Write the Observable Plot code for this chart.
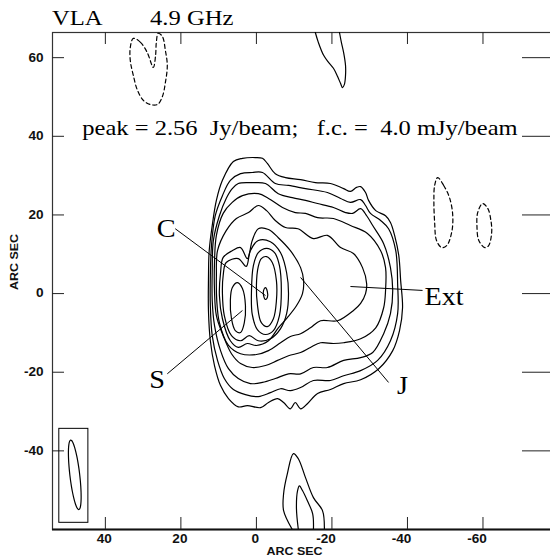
<!DOCTYPE html>
<html>
<head>
<meta charset="utf-8">
<script src="https://cdn.jsdelivr.net/npm/d3@7"></script>
<script src="https://cdn.jsdelivr.net/npm/@observablehq/plot@0.6"></script>
<style>
  html, body { margin: 0; padding: 0; background: #fff; overflow: hidden; }
  #wrap { position: relative; width: 558px; height: 560px; overflow: hidden; }
  .heading { position: absolute; top: 7px; font-family: "Liberation Serif", "Times New Roman", serif;
             font-size: 22px; line-height: 1; white-space: pre; transform: scaleX(1.12); transform-origin: 0 0; color: #000; }
</style>
</head>
<body>
<div id="wrap"><div id="chart"></div></div>
<script>
// Axis ticks (arc seconds from the core)
const xTicks = [40, 20, 0, -20, -40, -60];
const yTicks = [60, 40, 20, 0, -20, -40];

// Total-intensity contours of the main source, outermost first, [x, y] in arcsec
const lev1 = [[6.1,33.6],[3.7,34.4],[0.3,34.6],[-1.6,34.4],[-2.9,33.1],[-5.0,30.5],[-7.7,29.5],[-11.7,29.0],[-15.6,28.2],[-19.6,28.0],[-23.1,26.7],[-24.9,26.0],[-26.5,27.0],[-27.6,27.2],[-28.9,25.7],[-29.7,23.7],[-31.6,21.1],[-34.2,19.8],[-35.5,18.1],[-36.6,14.8],[-37.7,9.7],[-38.2,3.3],[-38.7,-3.6],[-37.9,-9.4],[-36.1,-14.5],[-32.4,-19.1],[-27.6,-21.9],[-23.1,-22.9],[-19.6,-24.4],[-16.2,-25.4],[-13.5,-28.0],[-11.7,-29.3],[-10.3,-27.7],[-9.0,-29.3],[-7.2,-27.7],[-5.6,-26.7],[-3.2,-27.7],[-1.1,-29.0],[2.4,-28.5],[4.8,-28.8],[7.4,-26.7],[9.5,-23.4],[11.1,-18.3],[12.2,-12.0],[12.7,-4.3],[12.7,3.3],[12.5,10.9],[11.7,17.3],[10.6,23.7],[9.0,28.8]];
const lev2 = [[4.2,30.5],[1.1,30.8],[-1.6,30.8],[-5.0,28.0],[-8.5,27.5],[-13.0,26.7],[-18.8,25.7],[-22.3,24.2],[-24.9,23.2],[-27.6,23.9],[-28.9,22.4],[-30.2,20.4],[-32.9,18.6],[-35.0,16.5],[-36.9,10.9],[-37.4,2.5],[-37.4,-5.1],[-35.5,-12.0],[-32.1,-17.0],[-27.6,-19.6],[-23.1,-20.9],[-19.6,-22.1],[-15.1,-22.1],[-11.7,-23.9],[-9.0,-24.7],[-6.4,-24.2],[-3.7,-25.2],[-0.5,-26.2],[2.9,-25.7],[6.1,-24.4],[8.5,-21.6],[10.3,-17.0],[11.7,-10.7],[12.2,-3.1],[12.2,4.6],[11.9,12.2],[10.9,19.8],[9.0,24.9],[6.9,28.8]];
const lev3 = [[4.8,28.0],[1.1,28.2],[-2.4,28.0],[-5.8,25.4],[-9.5,24.4],[-13.0,23.7],[-16.2,22.9],[-20.4,21.9],[-23.6,20.6],[-25.5,20.4],[-27.6,21.6],[-29.2,19.8],[-30.8,17.3],[-33.7,12.7],[-35.5,6.6],[-36.1,0.8],[-35.5,-5.1],[-33.7,-10.2],[-30.8,-15.0],[-27.6,-16.3],[-23.1,-17.0],[-18.8,-18.8],[-15.1,-18.8],[-11.7,-20.4],[-8.5,-20.4],[-5.0,-21.6],[-1.6,-22.6],[1.6,-22.9],[4.8,-21.6],[7.4,-19.1],[9.5,-14.5],[11.1,-8.1],[11.7,-1.8],[11.7,5.9],[11.4,13.5],[9.8,19.8],[8.0,24.2],[6.4,26.7]];
const lev4 = [[3.7,24.9],[-0.5,25.4],[-3.2,24.2],[-6.9,21.9],[-10.3,20.6],[-13.0,20.4],[-16.2,19.3],[-20.4,19.1],[-24.9,17.3],[-29.4,15.3],[-32.9,10.9],[-34.2,6.6],[-34.2,0.8],[-33.7,-3.6],[-31.6,-8.7],[-27.6,-11.5],[-23.1,-12.5],[-20.4,-12.7],[-17.0,-12.5],[-14.3,-13.7],[-11.7,-15.0],[-8.5,-15.8],[-5.6,-17.0],[-2.4,-18.3],[1.1,-18.8],[4.2,-17.8],[6.6,-15.3],[8.8,-10.7],[10.6,-5.6],[11.1,0.8],[11.1,7.9],[10.6,14.8],[8.8,20.4],[6.4,23.2]];
const lev5 = [[2.1,20.6],[-0.5,22.4],[-2.7,21.1],[-5.0,18.6],[-7.7,16.8],[-11.0,16.5],[-15.1,14.0],[-18.8,14.8],[-22.3,11.7],[-25.7,10.2],[-28.1,6.6],[-29.2,2.5],[-28.9,0],[-27.6,-2.5],[-25.7,-4.3],[-21.5,-6.9],[-17.0,-6.9],[-14.3,-8.7],[-11.7,-10.2],[-9.0,-10.9],[-6.4,-12.5],[-3.2,-14.5],[0,-15.5],[4.2,-15.3],[7.4,-13.2],[9.8,-7.4],[10.5,-1.8],[10.6,4.6],[10.3,10.9],[8.0,16.0],[5.3,19.1]];
const lev6 = [[6.4,10.9],[4.2,11.7],[2.4,8.9],[1.1,13.5],[-0.5,16.5],[-3.2,16.3],[-5.8,14.2],[-9.0,10.9],[-11.7,6.6],[-12.5,3.3],[-12.2,0],[-10.6,-3.1],[-8.2,-6.1],[-5.8,-8.7],[-3.2,-12.0],[0,-13.2],[2.4,-12.7],[4.8,-13.7],[6.9,-12.0],[9.0,-6.4],[9.8,-0.5],[9.5,5.3],[8.8,9.2]];
const lev7 = [[8.0,7.9],[4.8,8.9],[2.7,6.9],[1.6,10.9],[-0.5,13.5],[-3.7,13.2],[-6.4,10.4],[-8.0,5.3],[-8.5,0],[-8.0,-5.1],[-6.4,-8.9],[-3.7,-11.5],[-0.5,-12.0],[1.9,-10.7],[4.2,-12.0],[6.6,-10.7],[8.5,-5.6],[9.0,0],[8.8,4.6]];
const coreRing = [[-2.7,11.5],[-4.8,10.4],[-6.1,7.1],[-6.6,0.8],[-6.1,-5.6],[-4.5,-9.4],[-2.4,-10.4],[-0.3,-9.2],[1.1,-5.3],[1.3,0.8],[0.8,7.1],[-0.5,10.4]];
const coreInner = [[-2.7,9.4],[-4.2,7.9],[-5.3,3.3],[-5.3,-1.8],[-4.5,-6.4],[-2.9,-8.4],[-1.3,-7.4],[-0.3,-3.1],[0,2.0],[-0.5,6.9],[-1.3,8.9]];
const corePeak = [[-2.4,1.5],[-2.9,0.5],[-2.9,-1.0],[-2.4,-1.5],[-1.9,-0.5],[-1.9,0.8]];
const southKnot = [[5.0,2.8],[3.7,1.3],[2.9,-3.1],[3.2,-7.4],[4.2,-9.9],[5.6,-9.4],[6.6,-6.4],[6.9,-1.8],[6.4,1.5]];

// Faint isolated features
const posNorth = [[-15.6,66.4],[-16.4,63.9],[-17.8,60.6],[-19.1,58.8],[-20.4,57.3],[-21.5,55.2],[-22.3,53.4],[-22.8,52.4],[-23.3,53.2],[-23.6,55.5],[-23.6,58.0],[-23.1,61.3],[-22.5,63.9],[-22.0,66.4]];
const posSouthOuter = [[-9.5,-60],[-7.2,-55.2],[-7.2,-50.9],[-8.2,-45.8],[-9.8,-40.7],[-11.1,-42.0],[-13.0,-46.8],[-15.1,-51.9],[-17.5,-55.2],[-18.0,-60]];
const posSouthInner = [[-11.1,-60],[-10.6,-54.5],[-10.9,-50.1],[-11.4,-48.9],[-12.2,-50.1],[-13.5,-52.7],[-14.9,-56.0],[-15.1,-60]];
const negNorthWest = [[32.6,64.9],[30.7,63.9],[28.9,61.3],[27.3,57.5],[26.7,60.6],[26.5,63.9],[26.0,66.2],[24.9,65.4],[24.1,61.8],[23.6,58.0],[24.1,53.7],[24.9,50.1],[26.2,48.1],[28.1,48.1],[29.9,49.1],[31.5,51.7],[32.6,55.5],[33.4,59.3],[33.4,62.6]];
const negWest1 = [[-48.0,29.5],[-49.6,27.5],[-51.2,24.2],[-52.0,19.8],[-51.7,15.5],[-50.4,12.2],[-49.1,11.7],[-47.7,13.5],[-47.2,18.1],[-47.0,23.7],[-47.2,27.5]];
const negWest2 = [[-59.9,22.9],[-61.3,21.6],[-62.1,18.6],[-62.3,15.5],[-61.5,12.2],[-60.5,11.7],[-58.9,13.5],[-58.4,17.3],[-58.6,20.6]];

// Restoring beam (arcsec, degrees) and its box
const beamCenter = [48.1, -46.1];
const beamSemiAxes = [8.9, 1.3];
const beamPA = 7;
const beamBox = {x1: 52.2, x2: 44.5, y1: -58.3, y2: -34.4};

// Component labels and their leader lines
const labelNames = ["C", "S", "J", "Ext"];
const labelX = [23.9, 26.3, -38.7, -49.7];
const labelY = [16.3, -22.1, -23.4, -0.8];
const leaderFrom = [[21.5, 16.5], [23.6, -20.4], [-35.0, -22.6], [-44.0, 0.8]];
const leaderTo = [[-2.4, -0.5], [3.7, -4.3], [-11.7, 4.1], [-24.9, 1.8]];

// Heading pieces (left offsets in px) and the peak / first-contour note
const titleText = ["VLA", "4.9 GHz"];
const titleLeft = [52, 150];
const noteText = "peak = 2.56  Jy/beam;   f.c. =  4.0 mJy/beam";
const noteAt = [46.1, 42.2];

// ---- build tables ----
const toRows = (sets) => sets.flatMap(([id, pts]) => pts.map(([x, y]) => ({id, x, y})));
const closedSolid = toRows([["l1", lev1], ["l2", lev2], ["l3", lev3], ["l4", lev4], ["l5", lev5], ["l6", lev6], ["l7", lev7], ["cr", coreRing], ["ci", coreInner], ["cp", corePeak], ["sk", southKnot]]);
const openSolid = toRows([["pn", posNorth], ["pso", posSouthOuter], ["psi", posSouthInner]]);
const closedDashed = toRows([["nnw", negNorthWest], ["nw1", negWest1], ["nw2", negWest2]]);

const beamPts = d3.range(0, 360, 10).map(t => {
  const a = t * Math.PI / 180, p = beamPA * Math.PI / 180;
  const u = beamSemiAxes[0] * Math.cos(a), v = beamSemiAxes[1] * Math.sin(a);
  return {x: beamCenter[0] + u * Math.sin(p) + v * Math.cos(p), y: beamCenter[1] + u * Math.cos(p) - v * Math.sin(p)};
});

const labels = labelNames.map((t, i) => ({t, x: labelX[i], y: labelY[i]}));
const leaders = leaderFrom.map((f, i) => ({x1: f[0], y1: f[1], x2: leaderTo[i][0], y2: leaderTo[i][1]}));

const W = 558, H = 560, mL = 52, mR = 0, mT = 32, mB = 31;
const innerW = W - mL - mR, innerH = H - mT - mB;
const sans = "Liberation Sans, Arial, Helvetica, sans-serif";
const serif = "Liberation Serif, Times New Roman, serif";
const tickFont = {fontFamily: sans, fontWeight: "bold", fontSize: 12, fill: "#111"};

const chart = Plot.plot({
  width: W, height: H,
  marginLeft: mL, marginRight: mR, marginTop: mT, marginBottom: mB,
  style: {background: "#fff", maxWidth: "none", overflow: "visible"},
  x: {domain: [54, -80], axis: null},
  y: {domain: [-60, 66.4], axis: null},
  marks: [
    Plot.frame({stroke: "#333", strokeWidth: 1.2}),
    Plot.ruleY([-60], {stroke: "#111", strokeWidth: 2}),
    // inward ticks on all four sides
    Plot.tickX(xTicks, {x: d => d, insetTop: innerH - 12, stroke: "#222"}),
    Plot.tickX(xTicks, {x: d => d, insetBottom: innerH - 12, stroke: "#222"}),
    Plot.tickY(yTicks, {y: d => d, insetRight: innerW - 12, stroke: "#222"}),
    Plot.tickY(yTicks, {y: d => d, insetLeft: innerW - 36, stroke: "#222"}),
    // tick labels: the minus sign hangs to the left of the centred digits
    Plot.text(xTicks.filter(d => d >= 0), {x: d => d, frameAnchor: "bottom", dx: -1, dy: 13, text: d => String(d), ...tickFont}),
    Plot.text(xTicks.filter(d => d < 0), {x: d => d, frameAnchor: "bottom", dx: -6, dy: 13, text: d => String(d), ...tickFont}),
    Plot.text(yTicks, {y: d => d, frameAnchor: "left", dx: -9, textAnchor: "end", text: d => String(d), ...tickFont}),
    Plot.text(["ARC SEC"], {frameAnchor: "bottom", dx: -11, dy: 25, fontFamily: sans, fontWeight: "bold", fontSize: 11, fill: "#111"}),
    Plot.text(["ARC SEC"], {frameAnchor: "left", dx: -38, dy: 9, rotate: -90, fontFamily: sans, fontWeight: "bold", fontSize: 11, fill: "#111"}),
    // contours
    Plot.line(closedSolid, {x: "x", y: "y", z: "id", curve: "catmull-rom-closed", stroke: "#000", strokeWidth: 1.2}),
    Plot.line(openSolid, {x: "x", y: "y", z: "id", curve: "catmull-rom", stroke: "#000", strokeWidth: 1.2, clip: true}),
    Plot.line(closedDashed, {x: "x", y: "y", z: "id", curve: "catmull-rom-closed", stroke: "#000", strokeWidth: 1.2, strokeDasharray: "4,3", clip: true}),
    // beam
    Plot.rect([beamBox], {x1: "x1", x2: "x2", y1: "y1", y2: "y2", fill: "none", stroke: "#000", strokeWidth: 1}),
    Plot.line(beamPts, {x: "x", y: "y", curve: "catmull-rom-closed", stroke: "#000", strokeWidth: 1.2}),
    // annotations
    Plot.link(leaders, {x1: "x1", y1: "y1", x2: "x2", y2: "y2", stroke: "#000", strokeWidth: 1}),
    Plot.text(labels, {x: "x", y: "y", text: "t", fontFamily: serif, fontSize: 25, fill: "#000"}),
    Plot.text([noteText], {x: () => noteAt[0], y: () => noteAt[1], textAnchor: "start", fontFamily: serif, fontSize: 21.7, fill: "#000"})
  ]
});

document.getElementById("chart").appendChild(chart);

// heading sits in the top margin, above the frame
const wrap = document.getElementById("wrap");
titleText.forEach((t, i) => {
  const d = document.createElement("div");
  d.className = "heading";
  d.style.left = titleLeft[i] + "px";
  d.textContent = t;
  wrap.appendChild(d);
});

// the lettering of this figure runs slightly wide; keep spaces as typed
chart.querySelectorAll("text").forEach(t => {
  t.style.whiteSpace = "pre";
  const len = t.getComputedTextLength();
  if (len > 0) {
    t.setAttribute("textLength", (len * 1.13).toFixed(1));
    t.setAttribute("lengthAdjust", "spacingAndGlyphs");
  }
});
</script>
</body>
</html>
